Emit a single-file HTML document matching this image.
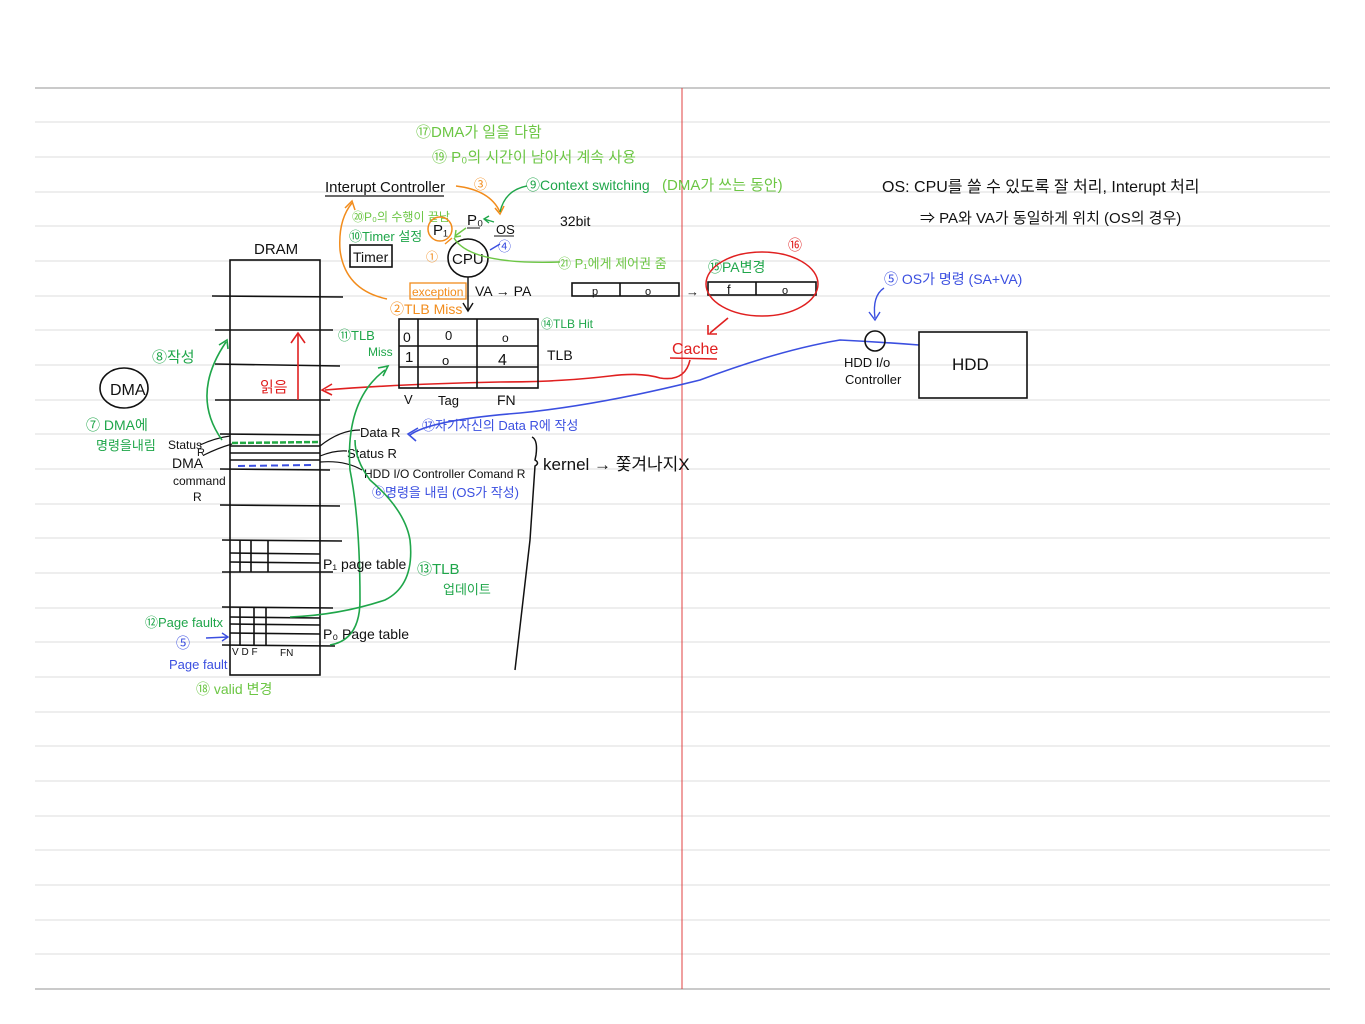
<!DOCTYPE html>
<html><head><meta charset="utf-8"><style>
html,body{margin:0;padding:0;background:#fff;}
svg{display:block}
text{font-family:"Liberation Sans","Noto Sans CJK KR",sans-serif;}
</style></head><body>
<svg width="1365" height="1024" viewBox="0 0 1365 1024" xmlns="http://www.w3.org/2000/svg">
<g stroke="#dcdcdc" stroke-width="1">
<line x1="35" y1="122" x2="1330" y2="122"/><line x1="35" y1="157" x2="1330" y2="157"/><line x1="35" y1="192" x2="1330" y2="192"/><line x1="35" y1="226" x2="1330" y2="226"/><line x1="35" y1="261" x2="1330" y2="261"/><line x1="35" y1="296" x2="1330" y2="296"/><line x1="35" y1="330" x2="1330" y2="330"/><line x1="35" y1="365" x2="1330" y2="365"/><line x1="35" y1="400" x2="1330" y2="400"/><line x1="35" y1="434" x2="1330" y2="434"/><line x1="35" y1="469" x2="1330" y2="469"/><line x1="35" y1="504" x2="1330" y2="504"/><line x1="35" y1="538" x2="1330" y2="538"/><line x1="35" y1="573" x2="1330" y2="573"/><line x1="35" y1="608" x2="1330" y2="608"/><line x1="35" y1="642" x2="1330" y2="642"/><line x1="35" y1="677" x2="1330" y2="677"/><line x1="35" y1="712" x2="1330" y2="712"/><line x1="35" y1="746" x2="1330" y2="746"/><line x1="35" y1="781" x2="1330" y2="781"/><line x1="35" y1="816" x2="1330" y2="816"/><line x1="35" y1="850" x2="1330" y2="850"/><line x1="35" y1="885" x2="1330" y2="885"/><line x1="35" y1="920" x2="1330" y2="920"/><line x1="35" y1="954" x2="1330" y2="954"/>
</g>
<line x1="35" y1="88" x2="1330" y2="88" stroke="#aaa" stroke-width="1.2"/>
<line x1="35" y1="989" x2="1330" y2="989" stroke="#aaa" stroke-width="1.2"/>
<line x1="682" y1="88" x2="682" y2="989" stroke="#e04040" stroke-width="1"/>

<!-- DRAM -->
<g stroke="#111" stroke-width="1.6" fill="none">
<rect x="230" y="260" width="90" height="415"/>
<line x1="212" y1="296" x2="343" y2="297"/>
<line x1="215" y1="330" x2="333" y2="330"/>
<line x1="215" y1="364" x2="340" y2="366"/>
<line x1="215" y1="400" x2="330" y2="400"/>
<line x1="220" y1="434" x2="320" y2="435"/>
<line x1="230" y1="446" x2="320" y2="446"/>
<line x1="230" y1="453" x2="320" y2="453"/>
<line x1="230" y1="460" x2="320" y2="460"/>
<line x1="220" y1="469" x2="330" y2="470"/>
<line x1="220" y1="505" x2="340" y2="506"/>
<line x1="222" y1="540" x2="342" y2="541"/>
<line x1="230" y1="553" x2="320" y2="554"/>
<line x1="230" y1="562" x2="320" y2="563"/>
<line x1="222" y1="572" x2="333" y2="572"/>
<line x1="240" y1="540" x2="240" y2="572"/><line x1="251" y1="540" x2="251" y2="572"/><line x1="268" y1="540" x2="268" y2="572"/>
<line x1="222" y1="607" x2="333" y2="608"/>
<line x1="230" y1="617" x2="320" y2="618"/>
<line x1="230" y1="624" x2="320" y2="625"/>
<line x1="230" y1="633" x2="320" y2="634"/>
<line x1="222" y1="645" x2="335" y2="646"/>
<line x1="240" y1="607" x2="240" y2="645"/><line x1="254" y1="607" x2="254" y2="645"/><line x1="266" y1="607" x2="266" y2="645"/>
</g>
<line x1="232" y1="443" x2="320" y2="442" stroke="#22aa44" stroke-width="2.5" stroke-dasharray="6,2"/>
<line x1="238" y1="466" x2="312" y2="465" stroke="#3b4fe0" stroke-width="2" stroke-dasharray="7,4"/>
<text x="254" y="254" font-size="15" fill="#111">DRAM</text>

<!-- DMA -->
<ellipse cx="124" cy="388" rx="24" ry="20" fill="none" stroke="#111" stroke-width="1.6"/>
<text x="110" y="395" font-size="16" fill="#111">DMA</text>
<text x="86" y="430" font-size="14" fill="#1fa64a">⑦ DMA에</text>
<text x="96" y="450" font-size="13" fill="#1fa64a">명령을내림</text>
<text x="168" y="449" font-size="12" fill="#111">Status</text>
<text x="197" y="456" font-size="11" fill="#111">R</text>
<text x="172" y="468" font-size="14" fill="#111">DMA</text>
<text x="173" y="485" font-size="12" fill="#111">command</text>
<text x="193" y="501" font-size="12" fill="#111">R</text>
<path d="M200 445 Q215 438 230 436 M204 455 Q218 448 232 444" stroke="#111" fill="none" stroke-width="1.2"/>
<text x="152" y="362" font-size="15" fill="#1fa64a">⑧작성</text>
<path d="M222 440 Q190 395 226 342" stroke="#1fa64a" fill="none" stroke-width="1.6"/>
<path d="M219 345 L227 340 L228 349" stroke="#1fa64a" fill="none" stroke-width="1.6"/>
<line x1="298" y1="400" x2="298" y2="334" stroke="#e02020" stroke-width="1.6"/>
<path d="M291 343 L298 333 L305 343" stroke="#e02020" fill="none" stroke-width="1.6"/>
<text x="260" y="392" font-size="15" fill="#e02020">읽음</text>
<path d="M325 390 Q400 384 500 382 Q560 382 610 376 Q640 372 660 378 Q685 382 690 360" stroke="#e02020" fill="none" stroke-width="1.6"/>
<path d="M332 384 L322 390 L332 395" stroke="#e02020" fill="none" stroke-width="1.6"/>
<text x="672" y="354" font-size="16" fill="#e02020">Cache</text>
<line x1="670" y1="358" x2="717" y2="359" stroke="#e02020" stroke-width="1.4"/>
<path d="M728 318 L710 333 M708 325 L708 334 L717 334" stroke="#e02020" fill="none" stroke-width="1.6"/>

<!-- Registers -->
<text x="360" y="437" font-size="13" fill="#111">Data R</text>
<text x="347" y="458" font-size="13" fill="#111">Status R</text>
<text x="364" y="478" font-size="12" fill="#111">HDD I/O Controller Comand R</text>
<path d="M320 446 Q340 430 360 430 M320 456 Q335 450 347 451 M320 462 Q345 460 362 470" stroke="#111" fill="none" stroke-width="1.2"/>
<text x="372" y="497" font-size="13" fill="#3b4fe0">⑥명령을 내림 (OS가 작성)</text>
<text x="422" y="430" font-size="13" fill="#3b4fe0">⑰자기자신의 Data R에 작성</text>
<path d="M410 435 Q430 420 520 413 Q600 405 700 380 Q780 350 840 340 Q880 342 919 345" stroke="#3b4fe0" fill="none" stroke-width="1.6"/>
<path d="M418 428 L408 434 L416 441" stroke="#3b4fe0" fill="none" stroke-width="1.6"/>
<path d="M532 437 Q538 440 536 455 L535 460 Q540 463 535 466 L530 540 L515 670" stroke="#111" fill="none" stroke-width="1.5"/>
<text x="543" y="470" font-size="17" fill="#111">kernel → 쫓겨나지X</text>

<!-- TLB -->
<g stroke="#111" stroke-width="1.6" fill="none">
<rect x="399" y="319" width="139" height="69"/>
<line x1="399" y1="346" x2="538" y2="346"/>
<line x1="399" y1="367" x2="538" y2="367"/>
<line x1="418" y1="319" x2="418" y2="388"/>
<line x1="477" y1="319" x2="477" y2="388"/>
</g>
<text x="403" y="342" font-size="14" fill="#111">0</text>
<text x="445" y="340" font-size="13" fill="#111">0</text>
<text x="502" y="342" font-size="12" fill="#111">o</text>
<text x="405" y="362" font-size="15" fill="#111">1</text>
<text x="442" y="365" font-size="13" fill="#111">o</text>
<text x="498" y="365" font-size="16" fill="#111">4</text>
<text x="547" y="360" font-size="14" fill="#111">TLB</text>
<text x="404" y="404" font-size="13" fill="#111">V</text>
<text x="438" y="405" font-size="13" fill="#111">Tag</text>
<text x="497" y="405" font-size="14" fill="#111">FN</text>
<text x="541" y="328" font-size="12" fill="#1fa64a">⑭TLB Hit</text>
<text x="338" y="340" font-size="13" fill="#1fa64a">⑪TLB</text>
<text x="368" y="356" font-size="12" fill="#1fa64a">Miss</text>
<path d="M330 645 Q360 640 360 600 Q360 520 350 470 Q345 400 385 370" stroke="#1fa64a" fill="none" stroke-width="1.6"/>
<path d="M378 368 L388 366 L383 376" stroke="#1fa64a" fill="none" stroke-width="1.6"/>
<path d="M290 617 Q340 615 385 600 Q415 585 410 540 Q405 510 370 480 Q355 460 355 440" stroke="#1fa64a" fill="none" stroke-width="1.6"/>
<text x="417" y="574" font-size="15" fill="#1fa64a">⑬TLB</text>
<text x="443" y="594" font-size="13" fill="#1fa64a">업데이트</text>

<text x="323" y="569" font-size="14" fill="#111">P₁ page table</text>
<text x="323" y="639" font-size="14" fill="#111">P₀ Page table</text>
<text x="232" y="655" font-size="10" fill="#111">V D F</text>
<text x="280" y="656" font-size="10" fill="#111">FN</text>
<text x="145" y="627" font-size="13" fill="#1fa64a">⑫Page faultx</text>
<text x="176" y="648" font-size="14" fill="#3b4fe0">⑤</text>
<line x1="206" y1="638" x2="228" y2="637" stroke="#3b4fe0" stroke-width="1.4"/>
<path d="M222 633 L228 637 L222 641" stroke="#3b4fe0" fill="none" stroke-width="1.4"/>
<text x="169" y="669" font-size="13" fill="#3b4fe0">Page fault</text>
<text x="196" y="694" font-size="14" fill="#6cc644">⑱ valid 변경</text>

<!-- top -->
<text x="416" y="137" font-size="15" fill="#6cc644">⑰DMA가 일을 다함</text>
<text x="432" y="162" font-size="15" fill="#6cc644">⑲ P₀의 시간이 남아서 계속 사용</text>
<text x="325" y="192" font-size="15" fill="#111">Interupt Controller</text>
<line x1="325" y1="196" x2="444" y2="196" stroke="#111" stroke-width="1.2"/>
<text x="474" y="189" font-size="13" fill="#f28c1c">③</text>
<path d="M456 186 Q490 190 500 212" stroke="#f28c1c" fill="none" stroke-width="1.5"/>
<path d="M495 208 L500 214 L504 206" stroke="#f28c1c" fill="none" stroke-width="1.5"/>
<text x="526" y="190" font-size="14" fill="#1fa64a">⑨Context switching</text>
<text x="662" y="190" font-size="15" fill="#6cc644">(DMA가 쓰는 동안)</text>
<path d="M527 186 Q505 190 500 212" stroke="#1fa64a" fill="none" stroke-width="1.4"/>
<text x="352" y="221" font-size="12" fill="#6cc644">⑳P₀의 수행이 끝남</text>
<text x="349" y="241" font-size="13" fill="#1fa64a">⑩Timer 설정</text>
<rect x="350" y="245" width="42" height="22" fill="none" stroke="#111" stroke-width="1.6"/>
<text x="353" y="262" font-size="14" fill="#111">Timer</text>
<text x="467" y="225" font-size="15" fill="#111">P₀</text>
<line x1="467" y1="228" x2="480" y2="228" stroke="#111"/>
<text x="496" y="234" font-size="13" fill="#111">OS</text>
<line x1="494" y1="236" x2="514" y2="236" stroke="#111"/>
<path d="M494 222 L484 219 M489 216 L484 219 L489 223" stroke="#1fa64a" fill="none" stroke-width="1.4"/>
<ellipse cx="440" cy="229" rx="12" ry="12" fill="none" stroke="#f28c1c" stroke-width="1.5"/>
<text x="433" y="235" font-size="15" fill="#111">P₁</text>
<path d="M466 228 L455 236 M456 230 L455 237 L461 236" stroke="#6cc644" fill="none" stroke-width="1.4"/>
<text x="498" y="251" font-size="13" fill="#3b4fe0">④</text>
<path d="M500 244 L490 250" stroke="#3b4fe0" stroke-width="1.4"/>
<ellipse cx="468" cy="258" rx="20" ry="19" fill="none" stroke="#111" stroke-width="1.6"/>
<text x="452" y="264" font-size="15" fill="#111">CPU</text>
<text x="426" y="261" font-size="12" fill="#f28c1c">①</text>
<path d="M445 244 L452 238" stroke="#f28c1c" stroke-width="1.4"/>
<path d="M454 238 Q470 265 560 262" stroke="#6cc644" fill="none" stroke-width="1.4"/>
<text x="558" y="268" font-size="13" fill="#6cc644">㉑ P₁에게 제어권 줌</text>
<text x="560" y="226" font-size="14" fill="#111">32bit</text>
<line x1="468" y1="277" x2="468" y2="310" stroke="#111" stroke-width="1.4"/>
<path d="M463 303 L468 311 L473 303" stroke="#111" fill="none" stroke-width="1.4"/>
<rect x="410" y="283" width="56" height="16" fill="none" stroke="#f28c1c" stroke-width="1.3"/>
<text x="412" y="296" font-size="12" fill="#f28c1c">exception</text>
<text x="475" y="296" font-size="14" fill="#111">VA → PA</text>
<text x="390" y="314" font-size="14" fill="#f28c1c">②TLB Miss</text>
<path d="M387 299 Q345 290 340 250 Q338 220 352 203" stroke="#f28c1c" fill="none" stroke-width="1.5"/>
<path d="M345 208 L352 201 L355 210" stroke="#f28c1c" fill="none" stroke-width="1.5"/>

<g stroke="#111" stroke-width="1.6" fill="none">
<rect x="572" y="283" width="107" height="13"/>
<line x1="620" y1="283" x2="620" y2="296"/>
<rect x="708" y="282" width="108" height="13"/>
<line x1="756" y1="282" x2="756" y2="295"/>
</g>
<text x="592" y="295" font-size="11" fill="#111">p</text>
<text x="645" y="295" font-size="11" fill="#111">o</text>
<text x="686" y="296" font-size="13" fill="#111">→</text>
<text x="727" y="294" font-size="13" fill="#111">f</text>
<text x="782" y="294" font-size="11" fill="#111">o</text>
<text x="708" y="272" font-size="14" fill="#1fa64a">⑮PA변경</text>
<ellipse cx="762" cy="284" rx="56" ry="32" fill="none" stroke="#e02020" stroke-width="1.5"/>
<text x="788" y="250" font-size="14" fill="#e02020">⑯</text>

<text x="884" y="284" font-size="14" fill="#3b4fe0">⑤ OS가 명령 (SA+VA)</text>
<path d="M884 288 Q872 296 875 318" stroke="#3b4fe0" fill="none" stroke-width="1.4"/>
<path d="M869 312 L875 320 L880 312" stroke="#3b4fe0" fill="none" stroke-width="1.4"/>
<circle cx="875" cy="341" r="10" fill="none" stroke="#111" stroke-width="1.6"/>
<rect x="919" y="332" width="108" height="66" fill="none" stroke="#111" stroke-width="1.6"/>
<text x="952" y="370" font-size="17" fill="#111">HDD</text>
<text x="844" y="367" font-size="13" fill="#111">HDD I/o</text>
<text x="845" y="384" font-size="13" fill="#111">Controller</text>
<text x="882" y="192" font-size="16" fill="#111">OS: CPU를 쓸 수 있도록 잘 처리, Interupt 처리</text>
<text x="920" y="223" font-size="15" fill="#111">⇒ PA와 VA가 동일하게 위치 (OS의 경우)</text>
</svg>
</body></html>
